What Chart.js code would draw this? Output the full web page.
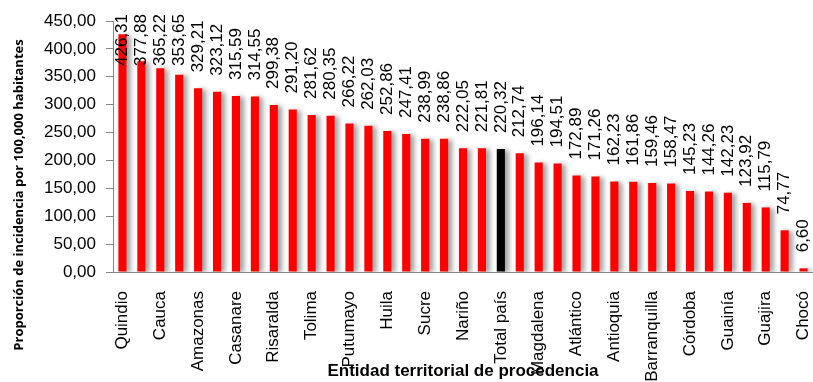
<!DOCTYPE html>
<html>
<head>
<meta charset="utf-8">
<script src="https://cdn.jsdelivr.net/npm/chart.js@4.4.1/dist/chart.umd.min.js"></script>
<style>
  html, body { margin: 0; padding: 0; background: #fff; }
  #wrap { width: 813px; height: 382px; }
</style>
</head>
<body>
<div id="wrap"><canvas id="incidenciaChart"></canvas></div>
<script>
// only every other entity name is printed on the axis
const entidades = ['Quindio', '', 'Cauca', '', 'Amazonas', '', 'Casanare', '', 'Risaralda', '',
  'Tolima', '', 'Putumayo', '', 'Huila', '', 'Sucre', '', 'Nariño', '', 'Total país', '',
  'Magdalena', '', 'Atlántico', '', 'Antioquia', '', 'Barranquilla', '', 'Córdoba', '',
  'Guainía', '', 'Guajira', '', 'Chocó'];
const tasas = [426.31, 377.88, 365.22, 353.65, 329.21, 323.12, 315.59, 314.55, 299.38, 291.20,
  281.62, 280.35, 266.22, 262.03, 252.86, 247.41, 238.99, 238.86, 222.05, 221.81, 220.32,
  212.74, 196.14, 194.51, 172.89, 171.26, 162.23, 161.86, 159.46, 158.47, 145.23, 144.26,
  142.23, 123.92, 115.79, 74.77, 6.60];
const yTicks = [0, 50, 100, 150, 200, 250, 300, 350, 400, 450];

const FAMILY = '"Liberation Sans", Arial, sans-serif';
const fmt = v => v.toFixed(2).replace('.', ',');
const colores = entidades.map(e => e === 'Total país' ? '#000000' : '#ff0000');

// soft grey shadow to the right of every bar
const barShadow = {
  id: 'barShadow',
  beforeDatasetsDraw(chart) {
    const ctx = chart.ctx;
    ctx.save();
    ctx.shadowColor = 'rgba(0,0,0,0.38)';
    ctx.shadowBlur = 5;
    ctx.shadowOffsetX = 4;
    ctx.shadowOffsetY = 1;
  },
  afterDatasetsDraw(chart) {
    chart.ctx.restore();
  }
};

// vertical value labels above the bars, kept inside the top of the canvas
const valueLabels = {
  id: 'valueLabels',
  afterDatasetsDraw(chart) {
    const ctx = chart.ctx;
    const meta = chart.getDatasetMeta(0);
    const limit = chart.chartArea.top - 7;
    ctx.save();
    ctx.font = '17px ' + FAMILY;
    ctx.fillStyle = '#000';
    ctx.textAlign = 'left';
    ctx.textBaseline = 'middle';
    meta.data.forEach((bar, i) => {
      const text = fmt(tasas[i]);
      const w = ctx.measureText(text).width;
      let start = bar.y - 16;
      if (start - w < limit) start = limit + w;
      ctx.save();
      ctx.translate(bar.x, start);
      ctx.rotate(-Math.PI / 2);
      ctx.fillText(text, 0, 0);
      ctx.restore();
    });
    ctx.restore();
  }
};

// y axis title, centred on the canvas height rather than the plot
const yTitle = {
  id: 'yTitle',
  afterDraw(chart) {
    const ctx = chart.ctx;
    ctx.save();
    ctx.font = 'bold 13px "Open Sans", ' + FAMILY;
    ctx.fillStyle = '#000';
    ctx.textAlign = 'center';
    ctx.textBaseline = 'middle';
    ctx.translate(19, 195);
    ctx.rotate(-Math.PI / 2);
    ctx.fillText('Proporción de incidencia por 100,000 habitantes', 0, 0);
    ctx.restore();
  }
};

const ctx = document.getElementById('incidenciaChart').getContext('2d');
const incidenciaChart = new Chart(ctx, {
  type: 'bar',
  data: {
    labels: entidades,
    datasets: [{
      data: tasas,
      backgroundColor: colores,
      borderWidth: 0,
      categoryPercentage: 1,
      barPercentage: 0.43
    }]
  },
  options: {
    responsive: true,
    maintainAspectRatio: false,
    animation: false,
    layout: { padding: { top: 21, right: 0, bottom: 0, left: 0 } },
    plugins: {
      legend: { display: false },
      tooltip: { enabled: false }
    },
    scales: {
      x: {
        grid: { display: false },
        border: { color: '#868686', width: 1 },
        ticks: {
          autoSkip: false,
          minRotation: 90,
          maxRotation: 90,
          padding: 11,
          color: '#000',
          font: { family: FAMILY, size: 17 }
        },
        title: {
          display: true,
          text: 'Entidad territorial de procedencia',
          color: '#000',
          font: { family: FAMILY, size: 17, weight: 'bold' },
          padding: { top: 0, bottom: 0 }
        },
        afterFit(scale) {
          scale.height = 110;
          scale.paddingLeft = 0;
          scale.paddingRight = 0;
        }
      },
      y: {
        min: yTicks[0],
        max: yTicks[yTicks.length - 1],
        afterBuildTicks(scale) { scale.ticks = yTicks.map(v => ({ value: v })); },
        ticks: {
          padding: 10,
          color: '#000',
          font: { family: FAMILY, size: 17 },
          callback: v => fmt(v)
        },
        grid: { drawOnChartArea: false, drawTicks: true, tickLength: 7, color: '#868686' },
        border: { color: '#868686', width: 1 },
        afterFit(scale) { scale.width = 113; }
      }
    }
  },
  plugins: [barShadow, valueLabels, yTitle]
});
</script>
</body>
</html>
